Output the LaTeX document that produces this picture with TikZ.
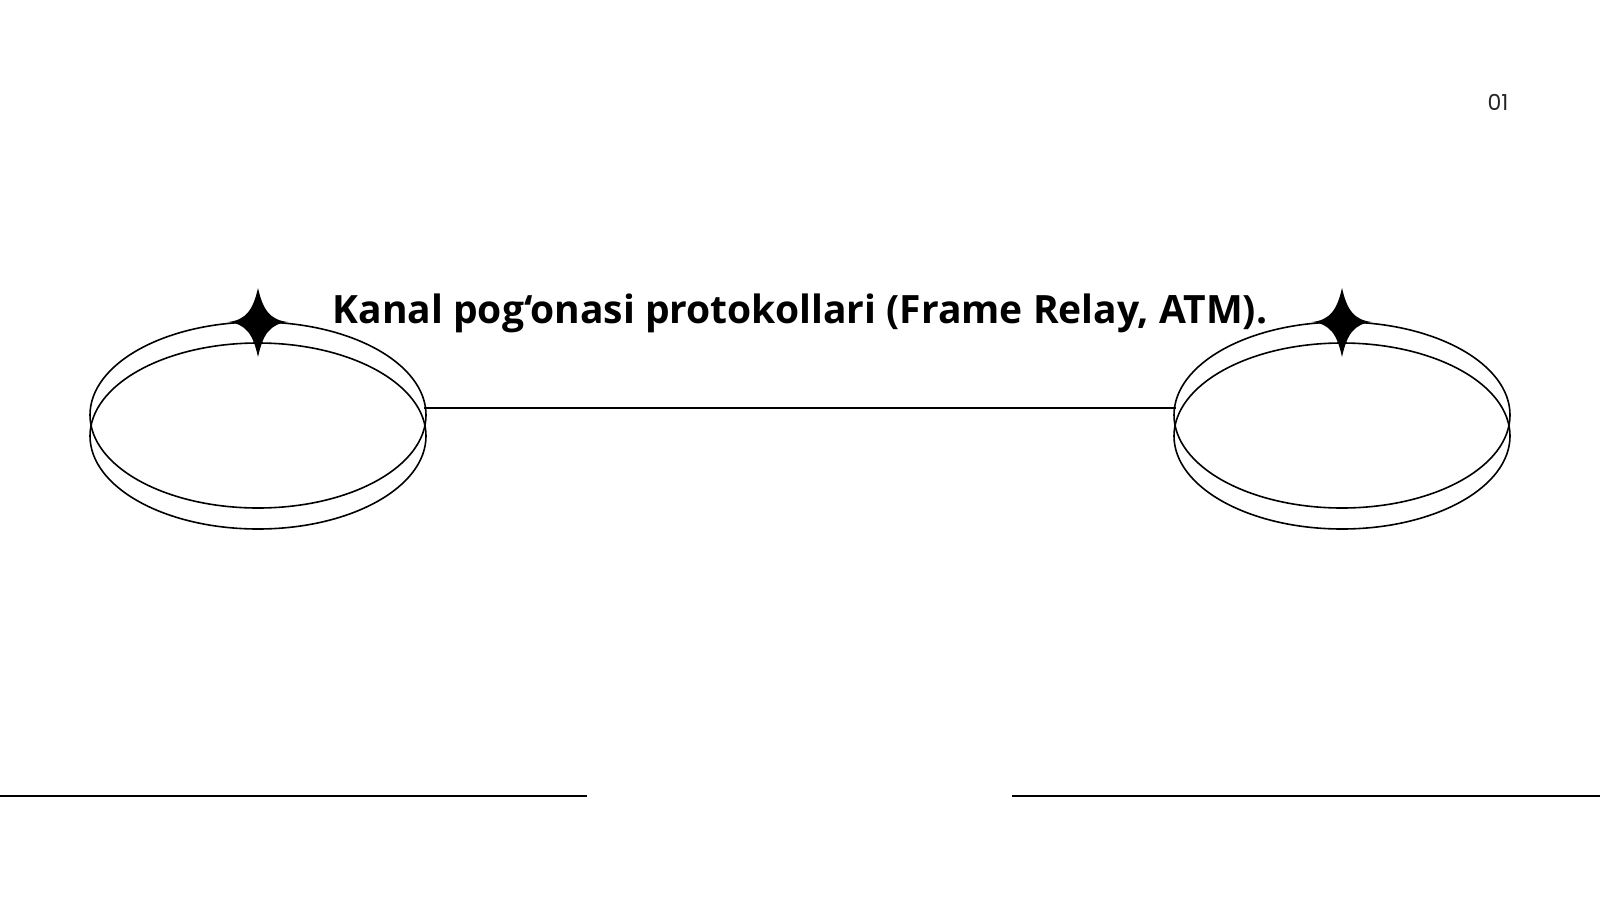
\documentclass[tikz,border=0pt]{standalone}
\usepackage{fontspec}
\setmainfont{Open Sans}
\newfontfamily\numfont{Poppins}
\usetikzlibrary{shapes.geometric,positioning}

\begin{document}
\begin{tikzpicture}[x=1pt,y=-1pt]
			\tikzstyle{Ring}	= [ellipse, draw, line width=1.6pt, minimum width=336pt, minimum height=186pt, inner sep=0pt]
			\tikzstyle{Rule}	= [line width=1.6pt]
			\tikzstyle{Title}	= [font=\fontsize{39}{46}\selectfont\bfseries, inner sep=0pt]

			\useasboundingbox[fill=white] (0,0) rectangle (1600,900);

			\node (r1a) at (258, 415) [Ring] {};
			\node (r1b) at (258, 436) [Ring] {};
			\node (r2a) at (1342, 415) [Ring] {};
			\node (r2b) at (1342, 436) [Ring] {};

			\node (title) at (800, 313) [Title] {Kanal pog‘onasi protokollari (Frame Relay, ATM).};
			\node (num) at (1498, 102) [font=\numfont\fontsize{22}{26}\selectfont, text=black!85] {01};

			% sparkles on top of the rings
			\foreach \cx in {258, 1342} {
				\fill (\cx, 288) .. controls (\cx+5, 310) and (\cx+12, 320) .. (\cx+30, 322)
					.. controls (\cx+12, 324) and (\cx+5, 334) .. (\cx, 357)
					.. controls (\cx-5, 334) and (\cx-12, 324) .. (\cx-30, 322)
					.. controls (\cx-12, 320) and (\cx-5, 310) .. (\cx, 288);
			}

			\coordinate (a) at (424, 408);
			\coordinate (b) at (1176, 408);
			\draw [Rule] (a) -- (b);

			\coordinate (l1) at (0, 796);
			\coordinate (l2) at (587, 796);
			\coordinate (l3) at (1012, 796);
			\coordinate (l4) at (1600, 796);
			\draw [Rule] (l1) -- (l2);
			\draw [Rule] (l3) -- (l4);
		\end{tikzpicture}
\end{document}
